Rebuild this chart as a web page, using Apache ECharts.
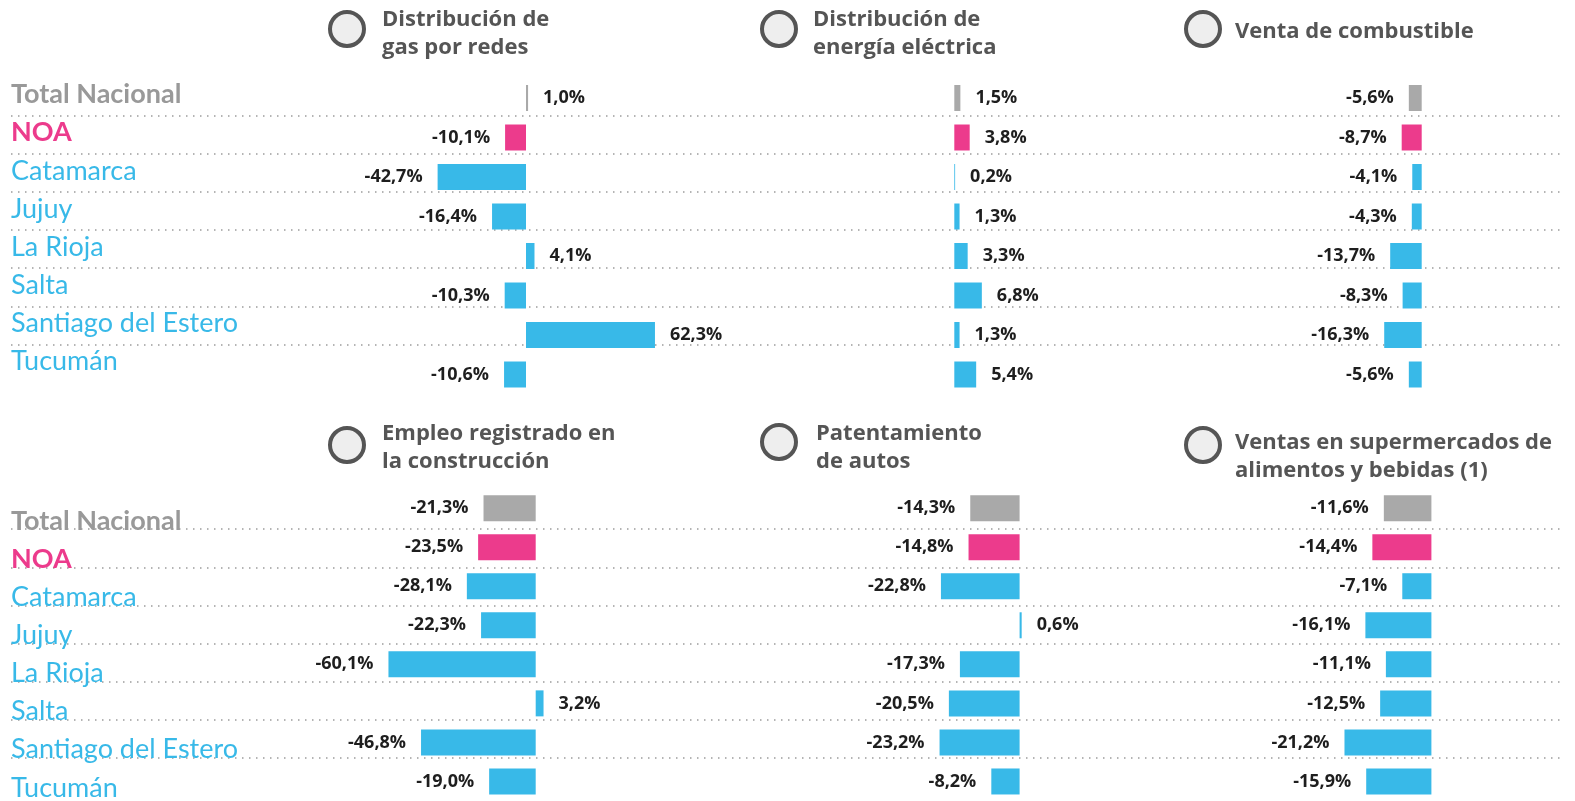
<!DOCTYPE html>
<html>
<head>
<meta charset="utf-8">
<script src="https://cdn.jsdelivr.net/npm/echarts@6/dist/echarts.min.js"></script>
<style>
  html, body { margin: 0; padding: 0; background: #fff; }
  #chart { width: 1575px; height: 801px; }
</style>
</head>
<body>
<div id="chart"></div>
<script>
const categories = ['Total Nacional', 'NOA', 'Catamarca', 'Jujuy', 'La Rioja', 'Salta', 'Santiago del Estero', 'Tucumán'];

const gasRedes = [1.0, -10.1, -42.7, -16.4, 4.1, -10.3, 62.3, -10.6];
const energiaElectrica = [1.5, 3.8, 0.2, 1.3, 3.3, 6.8, 1.3, 5.4];
const ventaCombustible = [-5.6, -8.7, -4.1, -4.3, -13.7, -8.3, -16.3, -5.6];
const empleoConstruccion = [-21.3, -23.5, -28.1, -22.3, -60.1, 3.2, -46.8, -19.0];
const patentamiento = [-14.3, -14.8, -22.8, 0.6, -17.3, -20.5, -23.2, -8.2];
const supermercados = [-11.6, -14.4, -7.1, -16.1, -11.1, -12.5, -21.2, -15.9];

const titles = [
    'Distribución de\ngas por redes',
    'Distribución de\nenergía eléctrica',
    'Venta de combustible',
    'Empleo registrado en\nla construcción',
    'Patentamiento\nde autos',
    'Ventas en supermercados de\nalimentos y bebidas (1)'
];

const GRAY = '#a9a9a9';
const PINK = '#ec3b8c';
const BLUE = '#38b9e8';
const FONT = 'Open Sans';

const chart = echarts.init(document.getElementById('chart'));

// zero = x of the 0 line, scale = px per unit
const panels = [
    { data: gasRedes, row: 0, zero: 526, scale: 2.07, min: -50, max: 70, tx: 382, ty: 6, cx: 347, cy: 29 },
    { data: energiaElectrica, row: 0, zero: 954.3, scale: 4.05, min: -5, max: 10, tx: 813, ty: 6, cx: 779, cy: 29 },
    { data: ventaCombustible, row: 0, zero: 1421.7, scale: 2.3, min: -20, max: 5, tx: 1235, ty: 18, cx: 1203, cy: 29 },
    { data: empleoConstruccion, row: 1, zero: 535.7, scale: 2.45, min: -70, max: 10, tx: 382, ty: 420, cx: 347, cy: 445 },
    { data: patentamiento, row: 1, zero: 1019.6, scale: 3.45, min: -30, max: 5, tx: 816, ty: 420, cx: 779, cy: 442 },
    { data: supermercados, row: 1, zero: 1431.4, scale: 4.1, min: -25, max: 5, tx: 1235, ty: 429, cx: 1203, cy: 445 }
];

const rowBars = [{ top: 78.25, height: 316 }, { top: 488.6, height: 314 }];
const rowLines = [{ top: 77.6, height: 305, pad: [0, 0, 4, 0] }, { top: 491.1, height: 311, pad: [22, 0, 0, 0] }];

function fmt(v) {
    return v.toFixed(1).replace('.', ',') + '%';
}

function barColor(i) {
    if (i === 0) return GRAY;
    if (i === 1) return PINK;
    return BLUE;
}

const grid = [];
const xAxis = [];
const yAxis = [];
const series = [];

// background grids: row labels and dotted separators
rowLines.forEach(function (r, k) {
    grid.push({ left: 11, right: 13, top: r.top, height: r.height });
    xAxis.push({ gridIndex: k, type: 'value', show: false, min: 0, max: 1 });
    yAxis.push({
        gridIndex: k,
        type: 'value',
        position: 'right',
        inverse: true,
        min: 0,
        max: 8,
        interval: 1,
        axisLabel: { show: false },
        axisLine: { show: false },
        axisTick: { show: false },
        splitLine: {
            show: true,
            showMinLine: false,
            showMaxLine: false,
            lineStyle: { color: '#9c9c9c', width: 1.5, type: [1.5, 5.5] }
        }
    });
    yAxis.push({
        gridIndex: k,
        type: 'category',
        position: 'left',
        inverse: true,
        data: categories,
        axisLine: { show: false },
        axisTick: { show: false },
        splitLine: { show: false },
        axisLabel: {
            inside: true,
            margin: 0,
            padding: r.pad,
            formatter: function (value, idx) {
                const key = idx === 0 ? 't' : (idx === 1 ? 'n' : 'p');
                return '{' + key + '|' + value + '}';
            },
            rich: {
                t: { color: '#999999', fontFamily: 'Lato', fontWeight: 'bold', fontSize: 27 },
                n: { color: PINK, fontFamily: 'Lato', fontWeight: 'bold', fontSize: 27 },
                p: { color: BLUE, fontFamily: 'Lato', fontSize: 27 }
            }
        }
    });
});

const title = [];
const graphic = [];

panels.forEach(function (p, i) {
    const g = grid.length;
    const r = rowBars[p.row];
    grid.push({
        left: p.zero + p.min * p.scale,
        width: (p.max - p.min) * p.scale,
        top: r.top,
        height: r.height
    });
    xAxis.push({ gridIndex: g, type: 'value', min: p.min, max: p.max, show: false });
    const yIdx = yAxis.length;
    yAxis.push({ gridIndex: g, type: 'category', data: categories, inverse: true, show: false });
    series.push({
        type: 'bar',
        xAxisIndex: g,
        yAxisIndex: yIdx,
        barWidth: 26,
        data: p.data.map(function (v, j) {
            return {
                value: v,
                itemStyle: { color: barColor(j) },
                label: { position: v < 0 ? 'left' : 'right' }
            };
        }),
        label: {
            show: true,
            distance: 15,
            color: '#1e1e1e',
            fontFamily: FONT,
            fontWeight: 'bold',
            fontSize: 18,
            formatter: function (prm) { return fmt(prm.value); }
        }
    });

    title.push({
        text: titles[i],
        left: p.tx,
        top: p.ty,
        padding: 0,
        textStyle: {
            color: '#555555',
            fontFamily: FONT,
            fontWeight: 'bold',
            fontSize: 22,
            lineHeight: 28
        }
    });
    graphic.push({
        type: 'circle',
        shape: { cx: p.cx, cy: p.cy, r: 17 },
        style: { fill: '#eeeeee', stroke: '#555555', lineWidth: 4 }
    });
});

chart.setOption({
    animation: false,
    title: title,
    graphic: graphic,
    grid: grid,
    xAxis: xAxis,
    yAxis: yAxis,
    series: series
});

window.addEventListener('resize', function () {
    chart.resize();
});
</script>
</body>
</html>
